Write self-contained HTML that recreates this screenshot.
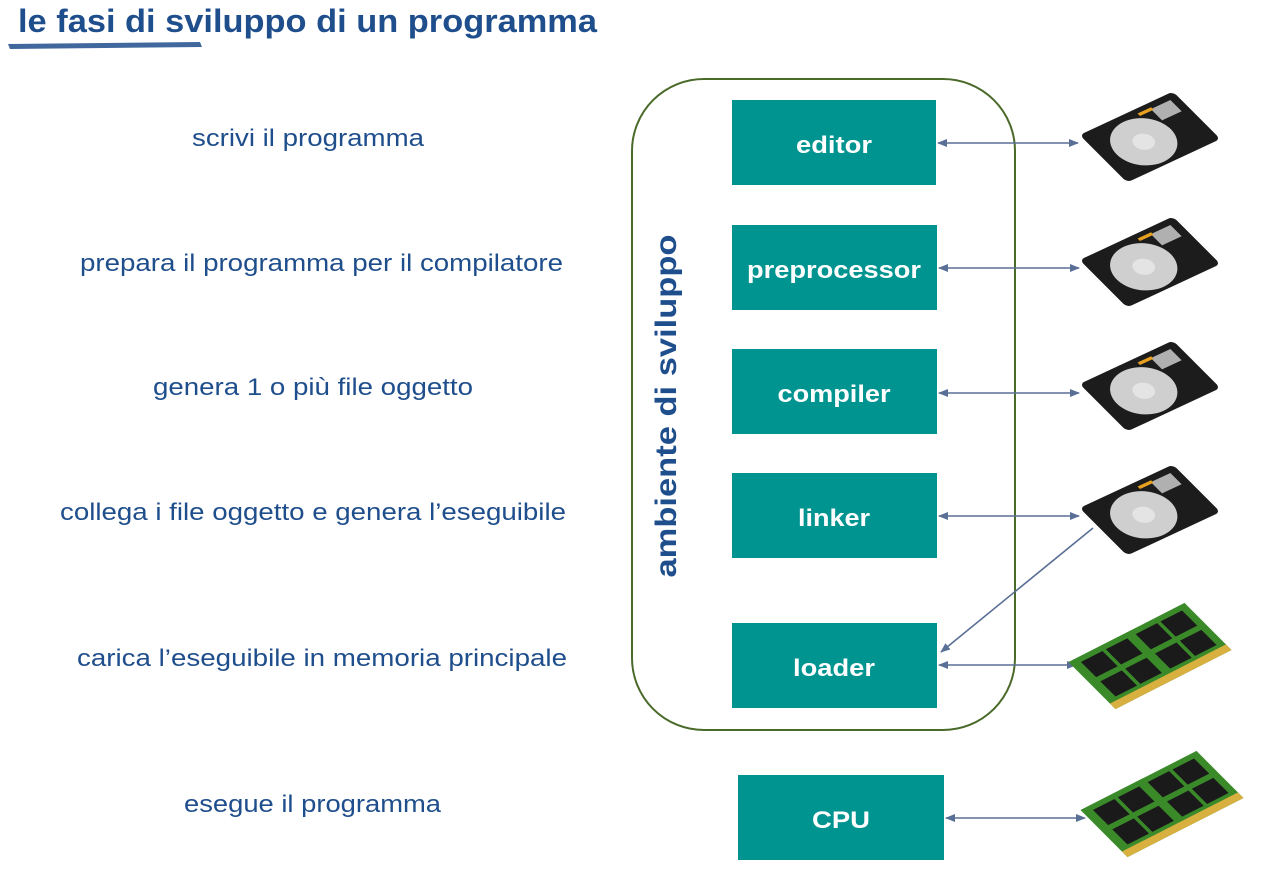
<!DOCTYPE html>
<html><head><meta charset="utf-8"><style>
body{margin:0;background:#fff;}
svg{display:block;font-family:"Liberation Sans",sans-serif;}
</style></head><body>
<svg width="1269" height="886" viewBox="0 0 1269 886">
<defs>
<marker id="a" markerWidth="10" markerHeight="8" refX="9" refY="4" orient="auto-start-reverse" markerUnits="userSpaceOnUse">
<path d="M0,0 L10,4 L0,8 z" fill="#5a6f96"/></marker>
<g id="hdd">
<g transform="scale(0.83) rotate(-25) skewX(20)">
<rect x="-62" y="-38" width="124" height="76" rx="6" fill="#1c1c1c"/>
<ellipse cx="-10" cy="2" rx="36" ry="32" fill="#cfcfcf"/>
<ellipse cx="-10" cy="2" rx="12" ry="11" fill="#e4e4e4"/>
<rect x="26" y="-30" width="26" height="18" fill="#b0b0b0"/>
<rect x="10" y="-32" width="18" height="4" fill="#e8a020"/>
</g></g>
<g id="ram">
<g transform="scale(0.93) rotate(-27) skewX(18)">
<rect x="-70" y="-34" width="140" height="68" fill="#3a8a2a"/>
<rect x="-70" y="26" width="140" height="8" fill="#d8b040"/>
<rect x="-60" y="-28" width="26" height="22" fill="#1a1a1a"/><rect x="-30" y="-28" width="26" height="22" fill="#1a1a1a"/>
<rect x="6" y="-28" width="26" height="22" fill="#1a1a1a"/><rect x="36" y="-28" width="26" height="22" fill="#1a1a1a"/>
<rect x="-60" y="0" width="26" height="22" fill="#1a1a1a"/><rect x="-30" y="0" width="26" height="22" fill="#1a1a1a"/>
<rect x="6" y="0" width="26" height="22" fill="#1a1a1a"/><rect x="36" y="0" width="26" height="22" fill="#1a1a1a"/>
</g></g>
</defs>
<text x="18" y="32" font-size="32" font-weight="bold" fill="#1f4e8c" textLength="579" lengthAdjust="spacingAndGlyphs">le fasi di sviluppo di un programma</text>
<path d="M8,44 L200,42 L202,47 L10,49 z" fill="#1f4e8c" opacity="0.85"/>
<g font-size="24" fill="#1f4e8c">
<text x="192" y="146" textLength="232" lengthAdjust="spacingAndGlyphs">scrivi il programma</text>
<text x="80" y="271" textLength="483" lengthAdjust="spacingAndGlyphs">prepara il programma per il compilatore</text>
<text x="153" y="395" textLength="320" lengthAdjust="spacingAndGlyphs">genera 1 o più file oggetto</text>
<text x="60" y="520" textLength="506" lengthAdjust="spacingAndGlyphs">collega i file oggetto e genera l’eseguibile</text>
<text x="77" y="666" textLength="490" lengthAdjust="spacingAndGlyphs">carica l’eseguibile in memoria principale</text>
<text x="184" y="812" textLength="257" lengthAdjust="spacingAndGlyphs">esegue il programma</text>
</g>
<rect x="632" y="79" width="383" height="651" rx="72" fill="none" stroke="#4a6a2a" stroke-width="2"/>
<text transform="translate(676,406) rotate(-90)" text-anchor="middle" font-size="30" font-weight="bold" fill="#1f4e8c" textLength="343" lengthAdjust="spacingAndGlyphs">ambiente di sviluppo</text>
<g fill="#009490">
<rect x="732" y="100" width="204" height="85"/>
<rect x="732" y="225" width="205" height="85"/>
<rect x="732" y="349" width="205" height="85"/>
<rect x="732" y="473" width="205" height="85"/>
<rect x="732" y="623" width="205" height="85"/>
<rect x="738" y="775" width="206" height="85"/>
</g>
<g fill="#fff" font-size="24" font-weight="bold" text-anchor="middle">
<text x="834" y="153" textLength="76" lengthAdjust="spacingAndGlyphs">editor</text>
<text x="834" y="278" textLength="174" lengthAdjust="spacingAndGlyphs">preprocessor</text>
<text x="834" y="402" textLength="113" lengthAdjust="spacingAndGlyphs">compiler</text>
<text x="834" y="526" textLength="72" lengthAdjust="spacingAndGlyphs">linker</text>
<text x="834" y="676" textLength="82" lengthAdjust="spacingAndGlyphs">loader</text>
<text x="841" y="828" textLength="58" lengthAdjust="spacingAndGlyphs">CPU</text>
</g>
<g stroke="#5a6f96" stroke-width="1.6" marker-start="url(#a)" marker-end="url(#a)">
<line x1="938" y1="143" x2="1078" y2="143"/>
<line x1="939" y1="268" x2="1079" y2="268"/>
<line x1="939" y1="393" x2="1079" y2="393"/>
<line x1="939" y1="516" x2="1079" y2="516"/>
<line x1="939" y1="665" x2="1076" y2="665"/>
<line x1="946" y1="818" x2="1085" y2="818"/>
</g>
<line x1="1093" y1="528" x2="941" y2="652" stroke="#5a6f96" stroke-width="1.6" marker-end="url(#a)"/>
<use href="#hdd" x="1150" y="137"/>
<use href="#hdd" x="1150" y="262"/>
<use href="#hdd" x="1150" y="386"/>
<use href="#hdd" x="1150" y="510"/>
<use href="#ram" x="1150" y="656"/>
<use href="#ram" x="1162" y="804"/>
</svg>
</body></html>
